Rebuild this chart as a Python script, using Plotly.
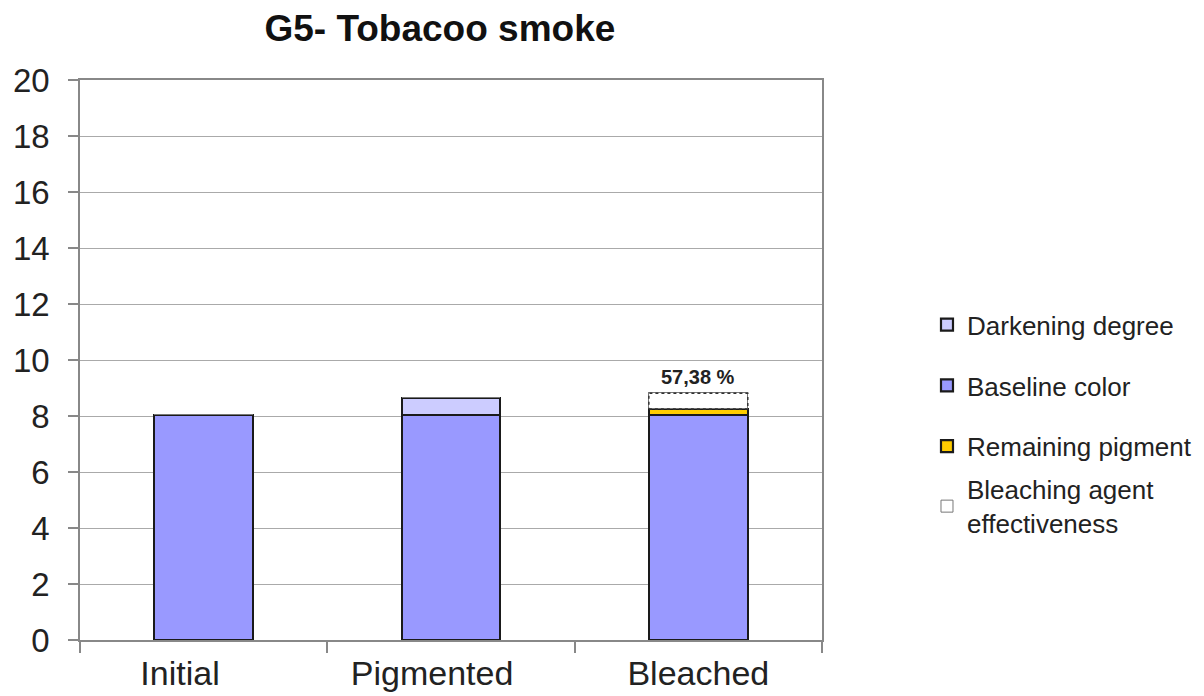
import plotly.graph_objects as go

categories = ["Initial", "Pigmented", "Bleached"]
baseline = [8.05, 8.05, 8.05]
darkening = [0, 0.6, 0]
remaining = [0, 0, 0.2]
effectiveness = [0, 0, 0.56]
effect_label = "57,38 %"
y_ticks = [0, 2, 4, 6, 8, 10, 12, 14, 16, 18, 20]

xpos = list(range(len(categories)))
bw = 0.4
line = dict(color="#1a1a1a", width=2.2)
FONT = "Liberation Sans, Arial"
# label padding (non-breaking spaces) to mimic original label placement
label_pad = [5, 4, 0]
ticktext = [c + "\u00a0" * p for c, p in zip(categories, label_pad)]

fig = go.Figure()
fig.add_trace(go.Bar(x=xpos, y=baseline, width=bw, name="Baseline color",
                     marker=dict(color="#9999ff", line=line), legendrank=2,
                     legendgroup="b"))
fig.add_trace(go.Bar(x=xpos, y=darkening, width=bw, name="Darkening degree",
                     marker=dict(color="#ccccff", line=line), legendrank=1,
                     legendgroup="a"))
fig.add_trace(go.Bar(x=xpos, y=remaining, width=bw, name="Remaining pigment",
                     marker=dict(color="#ffcc00", line=line), legendrank=3,
                     legendgroup="c"))
fig.add_trace(go.Bar(x=xpos, y=effectiveness, width=bw,
                     name="Bleaching agent<br>effectiveness",
                     marker=dict(color="rgba(255,255,255,1)",
                                 line=dict(color="#777777", width=1)),
                     legend="legend2", legendgroup="d"))

# dotted outline of the effectiveness bar
i = 2
bot = baseline[i] + darkening[i] + remaining[i]
top = bot + effectiveness[i]
fig.add_trace(go.Scatter(
    x=[xpos[i] - bw / 2, xpos[i] + bw / 2, xpos[i] + bw / 2, xpos[i] - bw / 2, xpos[i] - bw / 2],
    y=[bot, bot, top, top, bot], mode="lines",
    line=dict(color="#333333", width=1.5, dash="dot"),
    showlegend=False, hoverinfo="skip"))

fig.add_annotation(x=xpos[i], y=top, text="<b>" + effect_label + "</b>",
                   showarrow=False, yanchor="bottom", yshift=3,
                   font=dict(size=20, color="#222222", family=FONT))

fig.update_layout(
    barmode="stack",
    width=1188, height=688,
    margin=dict(l=72, r=374, t=72, b=56, autoexpand=False),
    paper_bgcolor="white", plot_bgcolor="white",
    font=dict(family=FONT, color="#222222"),
    title=dict(text="<b>G5- Tobacoo smoke</b>", xref="paper", x=0.485,
               xanchor="center", y=1 - 20 / 688, yanchor="middle",
               font=dict(size=37, color="#111111")),
    legend=dict(x=1.1415, xanchor="left", y=0.605, yanchor="top",
                font=dict(size=26, color="#222222"), tracegroupgap=24,
                bgcolor="rgba(0,0,0,0)", itemwidth=30),
    legend2=dict(x=1.1415, xanchor="left", y=0.311, yanchor="top",
                 font=dict(size=26, color="#222222"),
                 bgcolor="rgba(0,0,0,0)", itemwidth=30),
    bargap=0,
)
fig.update_xaxes(
    range=[-0.5, 2.5], tickvals=xpos, ticktext=ticktext, ticks="",
    tickfont=dict(size=34, color="#222222"), ticklabelstandoff=2,
    showline=True, linecolor="#888888", linewidth=1.5, mirror=True,
    showgrid=False, zeroline=False,
    minor=dict(tickvals=[-0.5, 0.5, 1.5, 2.5], ticks="outside", ticklen=11,
               tickcolor="#888888", tickwidth=1.5, showgrid=False),
)
fig.update_yaxes(
    range=[0, 20], tickvals=y_ticks, ticks="outside", ticklen=10,
    tickcolor="#888888", tickwidth=1.5,
    tickfont=dict(size=33, color="#222222"), ticklabelstandoff=12,
    showline=True, linecolor="#888888", linewidth=1.5, mirror=True,
    showgrid=True, gridcolor="#aaaaaa", gridwidth=1, zeroline=False,
)

fig.write_html("out.html")
